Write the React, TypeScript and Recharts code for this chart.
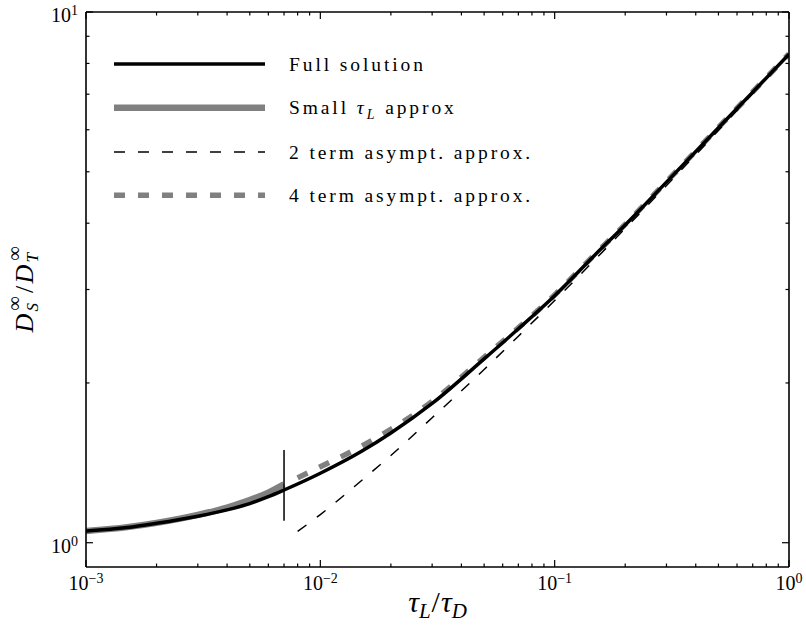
import { LineChart, Line, XAxis, YAxis, Legend, ReferenceLine, Label } from 'recharts';

// full solution
const fullX = [0.001, 0.0015, 0.002, 0.003, 0.004, 0.005, 0.006, 0.007, 0.01, 0.015, 0.02, 0.03, 0.05, 0.07, 0.1, 0.15, 0.2, 0.3, 0.5, 0.7, 1];
const fullY = [1.052, 1.068, 1.088, 1.122, 1.153, 1.185, 1.221, 1.257, 1.352, 1.487, 1.61, 1.83, 2.22, 2.53, 2.92, 3.5, 3.97, 4.78, 6.05, 7.06, 8.33];

// small tau_L approximation
const smallX = [0.001, 0.0015, 0.002, 0.003, 0.004, 0.005, 0.006, 0.007];
const smallY = [1.052, 1.07, 1.09, 1.128, 1.165, 1.203, 1.243, 1.288];

// asymptotic approximations
const asymX = [0.008, 0.01, 0.015, 0.02, 0.03, 0.05, 0.07, 0.1, 0.15, 0.2, 0.3, 0.5, 0.7, 1];
const twoTermY = [1.05, 1.13, 1.31, 1.46, 1.72, 2.12, 2.45, 2.86, 3.43, 3.91, 4.71, 5.98, 7.02, 8.32];
const fourTermY = [1.325, 1.39, 1.52, 1.635, 1.845, 2.235, 2.54, 2.93, 3.51, 3.98, 4.79, 6.06, 7.07, 8.34];

// switch-over marker
const markerX = 0.007;
const markerY = [1.1, 1.495];

const xDecades = [0.001, 0.01, 0.1];
const yDecades = [1];
const mantissas = [1, 2, 3, 4, 5, 6, 7, 8, 9];
const xTicks = [...xDecades.flatMap((d) => mantissas.map((m) => +(d * m).toPrecision(3))), 1];
const yTicks = [...yDecades.flatMap((d) => mantissas.map((m) => d * m)), 10];

const fullData = fullX.map((x, i) => ({ x, y: fullY[i] }));
const smallData = smallX.map((x, i) => ({ x, y: smallY[i] }));
const twoTermData = asymX.map((x, i) => ({ x, y: twoTermY[i] }));
const fourTermData = asymX.map((x, i) => ({ x, y: fourTermY[i] }));

const SERIF = '"Liberation Serif", "Times New Roman", serif';
const GRAY = '#808080';
const MAJOR = 7;
const MINOR = 3.5;

const expOf = (v: number) => Math.round(Math.log10(v));
const isMajor = (v: number) => Math.abs(Math.log10(v) - expOf(v)) < 1e-6;
const expText = (v: number) => {
  const e = expOf(v);
  return e < 0 ? '\u2212' + Math.abs(e) : String(e);
};

const Pow = ({ x, y, v, anchor }: any) => (
  <text x={x} y={y} textAnchor={anchor} fontFamily={SERIF} fontSize={20} fill="#000">
    10<tspan dy={-7} fontSize={14}>{expText(v)}</tspan>
  </text>
);

const BottomTick = ({ x, y, payload }: any) => {
  const major = isMajor(payload.value);
  return (
    <g>
      <line x1={x} x2={x} y1={y} y2={y - (major ? MAJOR : MINOR)} stroke="#000" strokeWidth={1.2} />
      {major && <Pow x={x} y={y + 23} v={payload.value} anchor="middle" />}
    </g>
  );
};

const TopTick = ({ x, y, payload }: any) => {
  const major = isMajor(payload.value);
  return <line x1={x} x2={x} y1={y} y2={y + (major ? MAJOR : MINOR)} stroke="#000" strokeWidth={1.2} />;
};

const LeftTick = ({ x, y, payload }: any) => {
  const major = isMajor(payload.value);
  return (
    <g>
      <line x1={x} x2={x + (major ? MAJOR : MINOR)} y1={y} y2={y} stroke="#000" strokeWidth={1.2} />
      {major && <Pow x={x - 8} y={y + 10} v={payload.value} anchor="end" />}
    </g>
  );
};

const RightTick = ({ x, y, payload }: any) => {
  const major = isMajor(payload.value);
  return <line x1={x} x2={x - (major ? MAJOR : MINOR)} y1={y} y2={y} stroke="#000" strokeWidth={1.2} />;
};

const XTitle = ({ viewBox }: any) => {
  const cx = viewBox.x + viewBox.width / 2;
  return (
    <text x={cx} y={612} textAnchor="middle" fontFamily={SERIF} fontSize={30} fontStyle="italic" fill="#000">
      τ<tspan fontSize={21} dy={6}>L</tspan>
      <tspan dy={-6} dx={1} fontStyle="normal">/</tspan>
      <tspan dx={1}>τ</tspan>
      <tspan fontSize={21} dy={6}>D</tspan>
    </text>
  );
};

const YTitle = ({ viewBox }: any) => {
  const cx = 33;
  const cy = viewBox.y + viewBox.height / 2;
  return (
    <text
      x={cx}
      y={cy}
      textAnchor="middle"
      textLength={86}
      lengthAdjust="spacing"
      transform={`rotate(-90, ${cx}, ${cy})`}
      fontFamily={SERIF}
      fontSize={26}
      fill="#000"
    >
      <tspan fontStyle="italic">D</tspan>
      <tspan fontSize={17} fontStyle="italic" dy={5}>S</tspan>
      <tspan fontSize={20} dx={-10} dy={-17}>∞</tspan>
      <tspan dy={12} dx={1}>/</tspan>
      <tspan fontStyle="italic">D</tspan>
      <tspan fontSize={17} fontStyle="italic" dy={5}>T</tspan>
      <tspan fontSize={20} dx={-10} dy={-17}>∞</tspan>
    </text>
  );
};

const legendRows = [
  { y: 64, stroke: '#000', width: 3.5, dash: undefined, label: 'Full solution' },
  { y: 107.7, stroke: GRAY, width: 6.5, dash: undefined, label: 'small' },
  { y: 152, stroke: '#000', width: 1.5, dash: '11 13', label: '2 term asympt. approx.' },
  { y: 195.3, stroke: GRAY, width: 5.5, dash: '11 13', label: '4 term asympt. approx.' },
];

const LegendBox = () => (
  <svg width={600} height={230} style={{ overflow: 'visible' }}>
    {legendRows.map((r) => (
      <g key={r.label}>
        <line x1={114} x2={265} y1={r.y} y2={r.y} stroke={r.stroke} strokeWidth={r.width} strokeDasharray={r.dash} />
        <text x={289} y={r.y + 6.5} fontFamily={SERIF} fontSize={19.5} letterSpacing={2.9} fill="#000">
          {r.label === 'small' ? (
            <>
              Small <tspan fontStyle="italic">τ</tspan>
              <tspan fontStyle="italic" fontSize={14} dy={5}>L</tspan>
              <tspan dy={-5}> approx</tspan>
            </>
          ) : (
            r.label
          )}
        </text>
      </g>
    ))}
  </svg>
);

const axisLine = { stroke: '#000', strokeWidth: 1.6 };

export default function App() {
  return (
    <div style={{ position: 'fixed', left: 0, top: 0, width: 806, height: 628, background: '#fff' }}>
      <LineChart width={806} height={628} margin={{ top: 11, right: 16, bottom: 60, left: 85 }}>
        <XAxis
          dataKey="x"
          type="number"
          scale="log"
          domain={[0.001, 1]}
          allowDataOverflow
          ticks={xTicks}
          interval={0}
          height={1}
          tickSize={0}
          tickMargin={0}
          tickLine={false}
          tick={<BottomTick />}
          axisLine={axisLine}
        >
          <Label content={<XTitle />} />
        </XAxis>
        <XAxis
          xAxisId="top"
          orientation="top"
          dataKey="x"
          type="number"
          scale="log"
          domain={[0.001, 1]}
          allowDataOverflow
          ticks={xTicks}
          interval={0}
          height={1}
          tickSize={0}
          tickMargin={0}
          tickLine={false}
          tick={<TopTick />}
          axisLine={axisLine}
        />
        <YAxis
          type="number"
          scale="log"
          domain={[0.9, 10]}
          allowDataOverflow
          ticks={yTicks}
          interval={0}
          width={1}
          tickSize={0}
          tickMargin={0}
          tickLine={false}
          tick={<LeftTick />}
          axisLine={axisLine}
        >
          <Label content={<YTitle />} />
        </YAxis>
        <YAxis
          yAxisId="right"
          orientation="right"
          type="number"
          scale="log"
          domain={[0.9, 10]}
          allowDataOverflow
          ticks={yTicks}
          interval={0}
          width={1}
          tickSize={0}
          tickMargin={0}
          tickLine={false}
          tick={<RightTick />}
          axisLine={axisLine}
        />
        <Legend
          layout="vertical"
          align="center"
          verticalAlign="middle"
          wrapperStyle={{ left: 0, top: 0, width: 600, height: 230 }}
          content={() => <LegendBox />}
        />
        <Line data={smallData} dataKey="y" type="monotone" stroke={GRAY} strokeWidth={6.5} dot={false} activeDot={false} isAnimationActive={false} />
        <Line data={fourTermData} dataKey="y" type="monotone" stroke={GRAY} strokeWidth={5.5} strokeDasharray="11 13" dot={false} activeDot={false} isAnimationActive={false} />
        <Line data={twoTermData} dataKey="y" type="monotone" stroke="#000" strokeWidth={1.5} strokeDasharray="11 13" dot={false} activeDot={false} isAnimationActive={false} />
        <Line data={fullData} dataKey="y" type="monotone" stroke="#000" strokeWidth={3.5} dot={false} activeDot={false} isAnimationActive={false} />
        <ReferenceLine
          segment={[{ x: markerX, y: markerY[0] }, { x: markerX, y: markerY[1] }]}
          stroke="#000"
          strokeWidth={1.5}
          ifOverflow="visible"
        />
      </LineChart>
    </div>
  );
}
